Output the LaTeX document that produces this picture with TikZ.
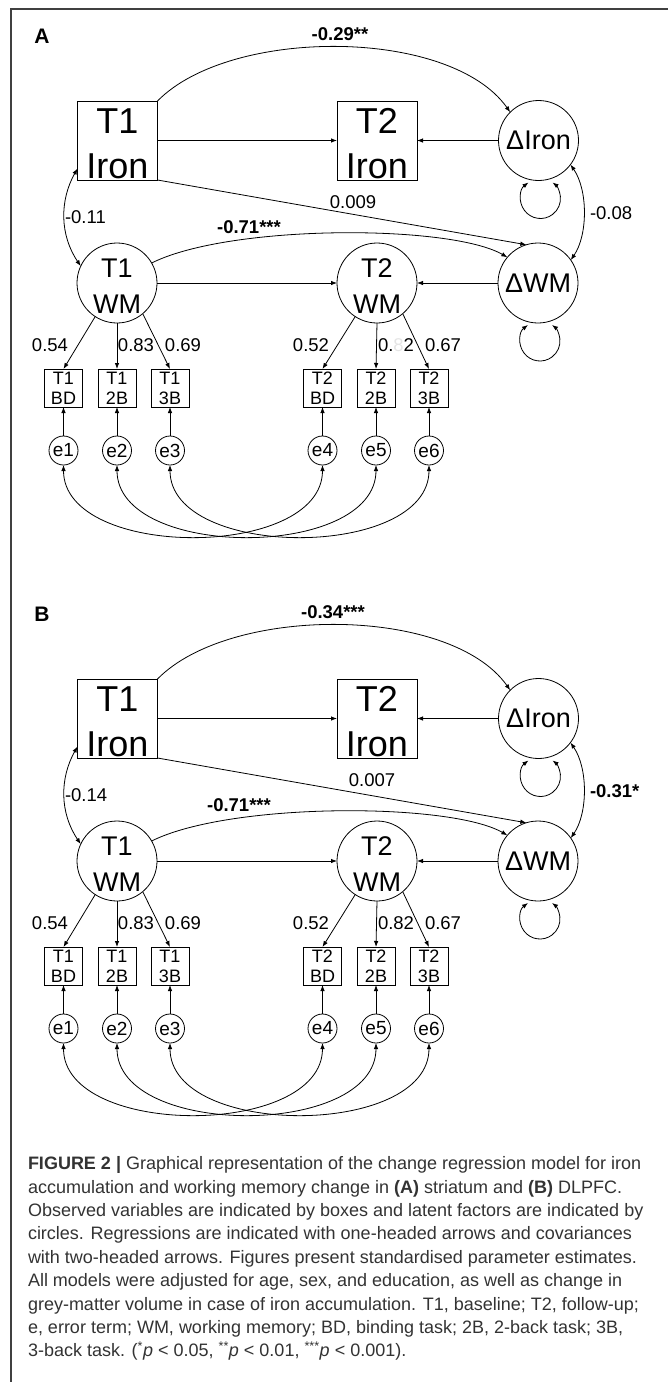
\documentclass[tikz,border=0pt]{standalone}
\usepackage{fontspec}
\setmainfont{Liberation Sans}
\usetikzlibrary{arrows.meta}
\tikzset{
  every node/.style={inner sep=0pt, outer sep=0pt},
  >={Latex[length=6pt,width=4.5pt]},
  obs/.style={draw, line width=0.8pt, minimum width=80pt, minimum height=79pt, align=center, font=\fontsize{36}{45}\selectfont},
  lat/.style={draw, circle, line width=0.8pt, minimum size=80pt, align=center, font=\fontsize{27}{36}\selectfont},
  ind/.style={draw, line width=0.8pt, minimum width=38pt, minimum height=38pt, align=center, font=\fontsize{18}{20}\selectfont},
  err/.style={draw, circle, line width=0.8pt, minimum size=29pt, font=\fontsize{19}{20}\selectfont},
  num/.style={font=\fontsize{18.5}{20}\selectfont},
  bnum/.style={font=\fontsize{18.5}{20}\selectfont\bfseries},
  plab/.style={font=\fontsize{21}{22}\selectfont\bfseries},
  conn/.style={line width=0.8pt, ->},
  cov/.style={line width=0.8pt, <->},
  borderline/.style={line width=1.4pt, black!75},
  captext/.style={anchor=mid west, text=black!80, font=\fontsize{18}{22}\selectfont},
}
\newcommand\sempanel[9]{%
  \node[plab] (lab) at (42,-36) {#1};
  \node[obs] (i1) at (117.5,-140.5) {\rule{0pt}{32pt}T1\\Iron};
  \node[obs] (i2) at (377,-140.5) {\rule{0pt}{32pt}T2\\Iron};
  \node[lat] (di) at (538.5,-140.5) {ΔIron};
  \node[lat] (w1) at (117,-283) {\rule{0pt}{25pt}T1\\WM};
  \node[lat] (w2) at (377,-283) {\rule{0pt}{25pt}T2\\WM};
  \node[lat] (dw) at (538,-283) {ΔWM};
  \foreach \ii/\xx/\ta/\tb in {1/63.5/T1/BD, 2/117/T1/2B, 3/170/T1/3B, 4/322.5/T2/BD, 5/376/T2/2B, 6/429/T2/3B}{
    \node[ind] (m\ii) at (\xx,-388) {\ta\\\tb};
    \node[err] (e\ii) at (\xx,-450.5) {e\ii};
    \draw[conn] (e\ii) -- (m\ii);
  }
  \draw[cov] (e1.south) .. controls +(0,-95) and +(0,-95) .. (e4.south);
  \draw[cov] (e2.south) .. controls +(0,-95) and +(0,-95) .. (e5.south);
  \draw[cov] (e3.south) .. controls +(0,-95) and +(0,-95) .. (e6.south);
  \draw[conn] (w1.-123) -- (m1.north);
  \draw[conn] (w1.south) -- (m2.north);
  \draw[conn] (w1.-50) -- (m3.north);
  \draw[conn] (w2.-123) -- (m4.north);
  \draw[conn] (w2.south) -- (m5.north);
  \draw[conn] (w2.-50) -- (m6.north);
  \node[num] (l1) at (50,-345) {0.54};
  \node[num] (l2) at (136,-345) {0.83};
  \node[num] (l3) at (183,-345) {0.69};
  \node[num] (l4) at (311,-345) {0.52};
  \node[num] (l5) at (396,-345) {#9};
  \node[num] (l6) at (443,-345) {0.67};
  \draw[conn] (i1.east) -- (i2.west);
  \draw[conn] (di.west) -- (i2.east);
  \draw[conn] (w1.east) -- (w2.west);
  \draw[conn] (dw.west) -- (w2.east);
  \draw[conn] (i1.north east) .. controls +(72.5,74) and +(-60,85) .. (di.135);
  \draw[conn] (i1.south east) -- (dw.107);
  \draw[conn] (w1.30) .. controls +(78,39) and +(-57,33) .. (dw.140);
  \draw[cov] (i1.215) .. controls +(-18,-32) and +(-21,31) .. (w1.155);
  \draw[cov] (di.-37) .. controls +(17.6,-25.4) and +(17.2,25) .. (dw.35);
  \draw[cov] ([shift={(-10pt,-2pt)}]di.south) arc[start angle=126.87, end angle=413.13, radius=20pt];
  \draw[cov] ([shift={(-10pt,-2pt)}]dw.south) arc[start angle=126.87, end angle=413.13, radius=20pt];
  \node[bnum] (top) at (#3,-34) {#2};
  \node[num, anchor=west] (cl) at (65,-217) {#4};
  \node[num] (dl) at (#6,-202) {#5};
  \node[bnum] (ml) at (#7,-227) {-0.71***};
  \node[num, anchor=west] (cr) at (590,-213) {#8};
}
\begin{document}
\begin{tikzpicture}[x=1pt,y=1pt]
\useasboundingbox (0,0) rectangle (668,-1382);
\fill[white] (0,0) rectangle (668,-1382);
\draw[borderline] (668,-9) -- (11,-9) -- (11,-1382);
\begin{scope}[name prefix=a-]
  \sempanel{A}{-0.29**}{340}{-0.11}{0.009}{353}{249}{-0.08}{0.{\color{black!10}8}2}
\end{scope}
\begin{scope}[yshift=-578pt, name prefix=b-]
  \sempanel{B}{-0.34***}{333}{-0.14}{0.007}{372}{239}{\textbf{-0.31*}}{0.82}
\end{scope}
\node[captext] (c1) at (28,-1167) {\textbf{FIGURE 2 |} Graphical representation of the change regression model for iron};
\node[captext] (c2) at (28,-1190.4) {accumulation and working memory change in \textbf{(A)} striatum and \textbf{(B)} DLPFC.};
\node[captext] (c3) at (28,-1213.8) {Observed variables are indicated by boxes and latent factors are indicated by};
\node[captext] (c4) at (28,-1237.2) {circles. Regressions are indicated with one-headed arrows and covariances};
\node[captext] (c5) at (28,-1260.6) {with two-headed arrows. Figures present standardised parameter estimates.};
\node[captext] (c6) at (28,-1284) {All models were adjusted for age, sex, and education, as well as change in};
\node[captext] (c7) at (28,-1307.4) {grey-matter volume in case of iron accumulation. T1, baseline; T2, follow-up;};
\node[captext] (c8) at (28,-1330.8) {e, error term; WM, working memory; BD, binding task; 2B, 2-back task; 3B,};
\node[captext] (c9) at (28,-1354.2) {3-back task. (\textsuperscript{*}\textit{p} < 0.05, \textsuperscript{**}\textit{p} < 0.01, \textsuperscript{***}\textit{p} < 0.001).};
\end{tikzpicture}
\end{document}
